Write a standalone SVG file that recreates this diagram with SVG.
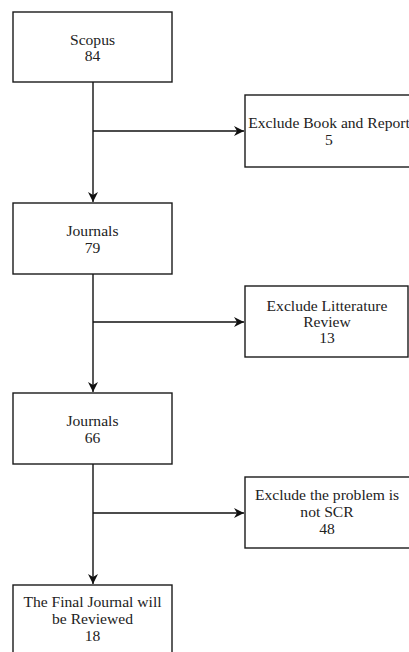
<svg xmlns="http://www.w3.org/2000/svg" width="409" height="652" viewBox="0 0 409 652">
<style>
.box{fill:#ffffff;stroke:#1a1a1a;stroke-width:1.4}
text{font-family:'Liberation Serif','DejaVu Serif','Times New Roman',serif;font-size:15.6px;fill:#222;text-anchor:middle}
.c{fill:none;stroke:#111;stroke-width:1.4}
</style>
<defs>
<marker id="ah" markerWidth="12" markerHeight="10" refX="10" refY="5" orient="auto" markerUnits="userSpaceOnUse">
<path d="M0,0 L10,5 L0,10 L3,5 Z" fill="#111"/>
</marker>
</defs>
<rect width="409" height="652" fill="#ffffff"/>
<g id="connectors">
<path class="c" d="M93,82 L93,202" marker-end="url(#ah)"/>
<path class="c" d="M93,131 L244,131" marker-end="url(#ah)"/>
<path class="c" d="M93,274 L93,392" marker-end="url(#ah)"/>
<path class="c" d="M93,322 L244,322" marker-end="url(#ah)"/>
<path class="c" d="M93,464 L93,584" marker-end="url(#ah)"/>
<path class="c" d="M93,513 L244,513" marker-end="url(#ah)"/>
</g>
<g id="scopus" font-family="Liberation Serif, serif">
<rect class="box" x="13" y="12" width="159" height="70"/>
<text x="92.5" y="45">Scopus</text>
<text x="92.5" y="61">84</text>
</g>
<g id="excl1" font-family="Liberation Serif, serif">
<rect class="box" x="245" y="95" width="168" height="72"/>
<text x="329" y="128">Exclude Book and Report</text>
<text x="329" y="145">5</text>
</g>
<g id="journals1" font-family="Liberation Serif, serif">
<rect class="box" x="13" y="203" width="159" height="71"/>
<text x="92.5" y="236">Journals</text>
<text x="92.5" y="253">79</text>
</g>
<g id="excl2" font-family="Liberation Serif, serif">
<rect class="box" x="245" y="286" width="163" height="71"/>
<text x="327" y="311">Exclude Litterature</text>
<text x="327" y="327">Review</text>
<text x="327" y="343">13</text>
</g>
<g id="journals2" font-family="Liberation Serif, serif">
<rect class="box" x="13" y="393" width="159" height="71"/>
<text x="92.5" y="426">Journals</text>
<text x="92.5" y="443">66</text>
</g>
<g id="excl3" font-family="Liberation Serif, serif">
<rect class="box" x="245" y="477" width="168" height="71"/>
<text x="327" y="500">Exclude the problem is</text>
<text x="327" y="517">not SCR</text>
<text x="327" y="534">48</text>
</g>
<g id="final" font-family="Liberation Serif, serif">
<rect class="box" x="13" y="585" width="159" height="72"/>
<text x="92.5" y="607">The Final Journal will</text>
<text x="92.5" y="624">be Reviewed</text>
<text x="92.5" y="641">18</text>
</g>
</svg>
